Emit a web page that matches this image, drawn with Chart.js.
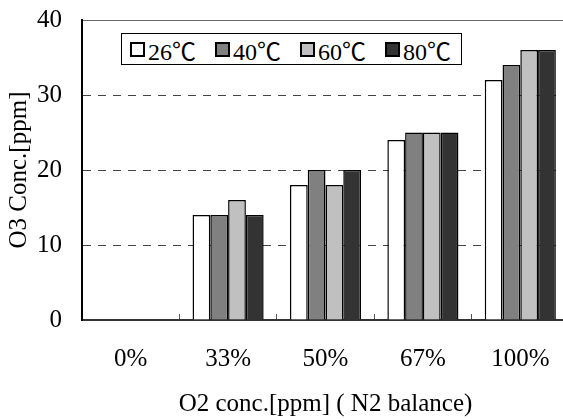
<!DOCTYPE html>
<html>
<head>
<meta charset="utf-8">
<script src="https://cdn.jsdelivr.net/npm/chart.js@4/dist/chart.umd.min.js"></script>
<style>
    body { margin: 0; overflow: hidden; background: #fff; }
    .wrap { position: relative; width: 569px; height: 419px; }
    .legend {
        position: absolute; left: 121px; top: 33px; width: 341px; height: 32px;
        border: 1px solid #000; background: #fff;
        display: flex; align-items: center; padding-left: 8px; box-sizing: border-box;
        font-family: "Liberation Serif", "Noto Sans CJK JP", serif; font-size: 24px; color: #000;
    }
    .legend span.item { display: flex; align-items: center; margin-right: 19px; }
    .legend span.box { width: 11px; height: 11px; border: 2px solid #000; margin-right: 3px; }
</style>
</head>
<body>
<div class="wrap">
    <canvas id="myChart" width="569" height="419"></canvas>
    <div class="legend" id="legend"></div>
</div>
<script>
const categories = ['0%', '33%', '50%', '67%', '100%'];
const seriesNames = ['26℃', '40℃', '60℃', '80℃'];
const values26 = [0, 14, 18, 24, 32];
const values40 = [0, 14, 20, 25, 34];
const values60 = [0, 16, 18, 25, 36];
const values80 = [0, 14, 20, 25, 36];
const yTicks = [0, 10, 20, 30, 40];

const BAR_COLORS = ['#ffffff', '#808080', '#c0c0c0', '#333333'];
const FONT = '"Liberation Serif", "DejaVu Serif", serif';

const seriesValues = [values26, values40, values60, values80];

const data = {
    labels: categories,
    datasets: seriesNames.map((name, i) => ({
        label: name,
        data: seriesValues[i],
        backgroundColor: BAR_COLORS[i],
        borderColor: '#000',
        borderWidth: 1.5,
        barPercentage: 1,
        categoryPercentage: 0.73,
    }))
};

Chart.defaults.color = '#000';

const config = {
    type: 'bar',
    data: data,
    options: {
        responsive: false,
        animation: false,
        layout: { padding: { top: 20, right: 0, left: 0, bottom: 0 } },
        plugins: {
            legend: { display: false },
            tooltip: { enabled: false }
        },
        scales: {
            x: {
                grid: {
                    drawOnChartArea: false,
                    drawTicks: true,
                    tickLength: -6,
                    tickColor: '#555',
                    tickWidth: 1,
                },
                border: { color: '#333', width: 2 },
                ticks: { font: { family: FONT, size: 25 }, padding: 30 },
                title: {
                    display: true,
                    text: 'O2 conc.[ppm] ( N2 balance)',
                    font: { family: FONT, size: 25 },
                    padding: { top: 0, bottom: 0 }
                },
                afterFit: s => { s.height = 99; s.paddingLeft = 0; s.paddingRight = 0; }
            },
            y: {
                min: 0,
                max: 40,
                afterBuildTicks: s => { s.ticks = yTicks.map(v => ({ value: v })); },
                grid: {
                    drawTicks: false,
                    // top line is solid grey, the rest dashed
                    color: c => (c.tick && c.tick.value === 0) ? 'rgba(0,0,0,0)' : (c.tick && c.tick.value === 40 ? '#666' : '#444'),
                    lineWidth: 1,
                },
                border: {
                    color: '#000', width: 2,
                    dash: c => (c.tick && c.tick.value === 40) ? [] : [8, 7]
                },
                ticks: { font: { family: FONT, size: 25 }, padding: 20 },
                title: {
                    display: true,
                    text: 'O3 Conc.[ppm]',
                    font: { family: FONT, size: 25 },
                    padding: { top: 4, bottom: 0 }
                },
                afterFit: s => { s.width = 82; s.paddingTop = 0; s.paddingBottom = 0; }
            }
        }
    }
};

const myChart = new Chart(document.getElementById('myChart'), config);

// legend box sits inside the plot, built from the dataset list
const legendEl = document.getElementById('legend');
data.datasets.forEach(ds => {
    const item = document.createElement('span');
    item.className = 'item';
    const box = document.createElement('span');
    box.className = 'box';
    box.style.background = ds.backgroundColor;
    item.appendChild(box);
    item.appendChild(document.createTextNode(ds.label));
    legendEl.appendChild(item);
});
</script>
</body>
</html>
